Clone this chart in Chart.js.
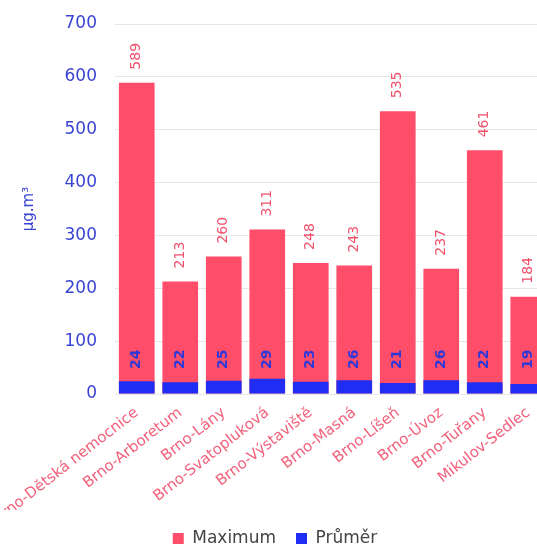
<!DOCTYPE html>
<html>
<head>
<meta charset="utf-8">
<script src="https://cdn.jsdelivr.net/npm/chart.js@4"></script>
<style>
    html, body { margin: 0; padding: 0; background: #fff; overflow: hidden; }
    #wrap { width: 550px; height: 557px; position: relative; }
</style>
</head>
<body>
<div id="wrap"><canvas id="prachChart"></canvas></div>
<script>
// stanice a hodnoty (µg.m-3)
const stanice = [
    "Brno-Dětská nemocnice", "Brno-Arboretum", "Brno-Lány", "Brno-Svatopluková",
    "Brno-Výstaviště", "Brno-Masná", "Brno-Líšeň", "Brno-Úvoz", "Brno-Tuřany", "Mikulov-Sedlec"
];
const maxima = [589, 213, 260, 311, 248, 243, 535, 237, 461, 184];
const prumery = [24, 22, 25, 29, 23, 26, 21, 26, 22, 19];
const yTicks = [0, 100, 200, 300, 400, 500, 600, 700];

const RED = "#ff4d6a";
const BLUE = "#1f2ef2";
const AXIS_BLUE = "#3a44d4";

// popisky hodnot nad sloupci (maximum) a uvnitř sloupce (průměr)
const valueLabels = {
    id: "valueLabels",
    afterDatasetsDraw(chart) {
        const ctx = chart.ctx;
        const y0 = chart.scales.y.getPixelForValue(0);
        ctx.save();
        chart.getDatasetMeta(0).data.forEach((bar, i) => {
            ctx.save();
            ctx.translate(bar.x, bar.y - 13);
            ctx.rotate(-Math.PI / 2);
            ctx.font = "14px 'DejaVu Sans'";
            ctx.fillStyle = "#f0506b";
            ctx.textAlign = "left";
            ctx.textBaseline = "middle";
            ctx.fillText(String(maxima[i]), 0, 0);
            ctx.restore();
        });
        chart.getDatasetMeta(1).data.forEach((bar, i) => {
            ctx.save();
            ctx.translate(bar.x, y0 - 25);
            ctx.rotate(-Math.PI / 2);
            ctx.font = "bold 14px 'DejaVu Sans'";
            ctx.fillStyle = "#3038d8";
            ctx.textAlign = "left";
            ctx.textBaseline = "middle";
            ctx.fillText(String(prumery[i]), 0, 0);
            ctx.restore();
        });
        ctx.restore();
    }
};

new Chart(document.getElementById("prachChart"), {
    type: "bar",
    data: {
        labels: stanice,
        datasets: [
            { label: "Maximum", data: maxima, backgroundColor: RED, order: 1 },
            { label: "Průměr", data: prumery, backgroundColor: BLUE, order: 0 }
        ]
    },
    options: {
        responsive: true,
        maintainAspectRatio: false,
        animation: false,
        layout: { padding: { top: 24, left: 0, right: 0, bottom: 0 } },
        datasets: {
            bar: { grouped: false, categoryPercentage: 1, barPercentage: 0.82, borderWidth: 0 }
        },
        plugins: {
            tooltip: { enabled: false },
            legend: {
                position: "bottom",
                labels: {
                    boxWidth: 11,
                    boxHeight: 11,
                    padding: 20,
                    color: "#444",
                    font: { family: "DejaVu Sans", size: 17 },
                    sort: (a, b) => a.datasetIndex - b.datasetIndex
                }
            }
        },
        scales: {
            x: {
                grid: { display: false },
                border: { display: false },
                ticks: {
                    color: "#f2607a",
                    font: { family: "DejaVu Sans", size: 15 },
                    minRotation: 38,
                    maxRotation: 38,
                    autoSkip: false,
                    padding: 2
                },
                afterFit: s => { s.paddingLeft = 0; s.paddingRight = 0; s.height = 116; }
            },
            y: {
                min: 0,
                max: 700,
                afterBuildTicks: s => { s.ticks = yTicks.map(v => ({ value: v })); },
                grid: { color: "#e6e6e6", drawTicks: false },
                border: { display: false },
                ticks: {
                    color: AXIS_BLUE,
                    font: { family: "DejaVu Sans", size: 17 },
                    padding: 18
                },
                title: {
                    display: true,
                    text: "µg.m³",
                    color: AXIS_BLUE,
                    font: { family: "DejaVu Sans", size: 15 },
                    padding: { top: 20, bottom: 4 }
                },
                afterFit: s => { s.width = 115; s.paddingTop = 0; s.paddingBottom = 0; }
            }
        }
    },
    plugins: [valueLabels]
});
</script>
</body>
</html>
